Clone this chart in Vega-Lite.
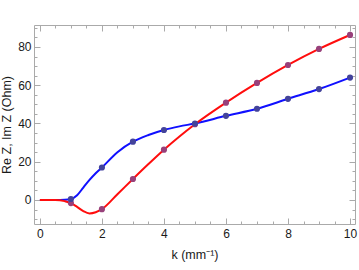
{
  "$schema": "https://vega.github.io/schema/vega-lite/v6.json",
  "width": 321,
  "height": 199,
  "autosize": {"type": "none"},
  "padding": {"left": 34, "top": 25, "right": 4, "bottom": 46},
  "background": "white",
  "config": {
    "view": {"stroke": null},
    "font": "Liberation Sans",
    "axis": {
      "grid": false,
      "domainColor": "#aaaaaa",
      "tickColor": "#aaaaaa",
      "domainWidth": 1,
      "tickWidth": 1,
      "labelFontSize": 12,
      "labelColor": "#1a1a1a",
      "titleFontSize": 12.5,
      "titleFontWeight": "normal",
      "titleColor": "#1a1a1a",
      "labelFlush": false,
      "labelOverlap": false
    }
  },
  "datasets": {
    "curve": [
      {"k": 0, "value": 0, "series": "Re"},
      {"k": 0.5, "value": 0, "series": "Re"},
      {"k": 0.8, "value": -0.6, "series": "Re"},
      {"k": 1, "value": -1.6, "series": "Re"},
      {"k": 1.2, "value": -3.6, "series": "Re"},
      {"k": 1.4, "value": -5.8, "series": "Re"},
      {"k": 1.6, "value": -7, "series": "Re"},
      {"k": 1.8, "value": -6.4, "series": "Re"},
      {"k": 2, "value": -4.8, "series": "Re"},
      {"k": 2.5, "value": 3, "series": "Re"},
      {"k": 3, "value": 11, "series": "Re"},
      {"k": 3.5, "value": 18.8, "series": "Re"},
      {"k": 4, "value": 26.3, "series": "Re"},
      {"k": 4.5, "value": 33.2, "series": "Re"},
      {"k": 5, "value": 39.6, "series": "Re"},
      {"k": 6, "value": 50.9, "series": "Re"},
      {"k": 7, "value": 61.2, "series": "Re"},
      {"k": 8, "value": 70.6, "series": "Re"},
      {"k": 9, "value": 79, "series": "Re"},
      {"k": 10, "value": 86.3, "series": "Re"},
      {"k": 0, "value": 0, "series": "Im"},
      {"k": 0.5, "value": 0, "series": "Im"},
      {"k": 0.8, "value": 0.1, "series": "Im"},
      {"k": 1, "value": 0.5, "series": "Im"},
      {"k": 1.2, "value": 2.5, "series": "Im"},
      {"k": 1.4, "value": 6.5, "series": "Im"},
      {"k": 1.6, "value": 10.5, "series": "Im"},
      {"k": 1.8, "value": 14, "series": "Im"},
      {"k": 2, "value": 17, "series": "Im"},
      {"k": 2.5, "value": 25, "series": "Im"},
      {"k": 3, "value": 30.5, "series": "Im"},
      {"k": 3.5, "value": 34, "series": "Im"},
      {"k": 4, "value": 36.6, "series": "Im"},
      {"k": 4.5, "value": 38.5, "series": "Im"},
      {"k": 5, "value": 40, "series": "Im"},
      {"k": 6, "value": 44, "series": "Im"},
      {"k": 7, "value": 47.7, "series": "Im"},
      {"k": 8, "value": 52.9, "series": "Im"},
      {"k": 9, "value": 58, "series": "Im"},
      {"k": 10, "value": 64, "series": "Im"}
    ],
    "points": [
      {"k": 1, "value": -1.6, "series": "Re"},
      {"k": 2, "value": -4.8, "series": "Re"},
      {"k": 3, "value": 11, "series": "Re"},
      {"k": 4, "value": 26.3, "series": "Re"},
      {"k": 5, "value": 39.6, "series": "Re"},
      {"k": 6, "value": 50.9, "series": "Re"},
      {"k": 7, "value": 61.2, "series": "Re"},
      {"k": 8, "value": 70.6, "series": "Re"},
      {"k": 9, "value": 79, "series": "Re"},
      {"k": 10, "value": 86.3, "series": "Re"},
      {"k": 1, "value": 0.5, "series": "Im"},
      {"k": 2, "value": 17, "series": "Im"},
      {"k": 3, "value": 30.5, "series": "Im"},
      {"k": 4, "value": 36.6, "series": "Im"},
      {"k": 5, "value": 40, "series": "Im"},
      {"k": 6, "value": 44, "series": "Im"},
      {"k": 7, "value": 47.7, "series": "Im"},
      {"k": 8, "value": 52.9, "series": "Im"},
      {"k": 9, "value": 58, "series": "Im"},
      {"k": 10, "value": 64, "series": "Im"}
    ]
  },
  "layer": [
    {
      "data": {"name": "curve"},
      "transform": [{"filter": "datum.series === 'Im'"}],
      "mark": {"type": "line", "interpolate": "monotone", "strokeWidth": 2, "color": "#1010ff"},
      "encoding": {
        "x": {
          "field": "k", "type": "quantitative",
          "scale": {"domain": [-0.19, 10.16], "nice": false, "zero": false},
          "axis": {
            "orient": "bottom",
            "title": "k (mm⁻¹)",
            "titlePadding": 6,
            "format": "~g",
            "values": [0,0.5,1,1.5,2,2.5,3,3.5,4,4.5,5,5.5,6,6.5,7,7.5,8,8.5,9,9.5,10],
            "labelExpr": "datum.value % 2 === 0 ? datum.label : ''",
            "tickSize": {"condition": {"test": "datum.value % 2 === 0", "value": -6}, "value": -3},
            "labelPadding": 10
          }
        },
        "y": {
          "field": "value", "type": "quantitative",
          "scale": {"domain": [-12.55, 91.5], "nice": false, "zero": false},
          "axis": {
            "orient": "left",
            "title": "Re Z, Im Z (Ohm)",
            "titlePadding": 4,
            "format": "~g",
            "values": [-10,-5,0,5,10,15,20,25,30,35,40,45,50,55,60,65,70,75,80,85,90],
            "labelExpr": "datum.value % 20 === 0 ? datum.label : ''",
            "tickSize": {"condition": {"test": "datum.value % 20 === 0", "value": -6}, "value": -3},
            "labelPadding": 9
          }
        }
      }
    },
    {
      "data": {"name": "curve"},
      "transform": [{"filter": "datum.series === 'Re'"}],
      "mark": {"type": "line", "interpolate": "monotone", "strokeWidth": 2, "color": "#ff0d0d"},
      "encoding": {
        "x": {
          "field": "k", "type": "quantitative",
          "axis": {
            "orient": "top",
            "title": null,
            "labels": false,
            "values": [0,0.5,1,1.5,2,2.5,3,3.5,4,4.5,5,5.5,6,6.5,7,7.5,8,8.5,9,9.5,10],
            "tickSize": {"condition": {"test": "datum.value % 2 === 0", "value": -6}, "value": -3}
          }
        },
        "y": {
          "field": "value", "type": "quantitative",
          "axis": {
            "orient": "right",
            "title": null,
            "labels": false,
            "values": [-10,-5,0,5,10,15,20,25,30,35,40,45,50,55,60,65,70,75,80,85,90],
            "tickSize": {"condition": {"test": "datum.value % 20 === 0", "value": -6}, "value": -3}
          }
        }
      }
    },
    {
      "data": {"name": "points"},
      "mark": {"type": "circle", "size": 38, "opacity": 1},
      "encoding": {
        "x": {"field": "k", "type": "quantitative", "axis": null},
        "y": {"field": "value", "type": "quantitative", "axis": null},
        "color": {
          "field": "series", "type": "nominal", "legend": null,
          "scale": {"domain": ["Re", "Im"], "range": ["#98407a", "#43439b"]}
        }
      }
    }
  ]
}
